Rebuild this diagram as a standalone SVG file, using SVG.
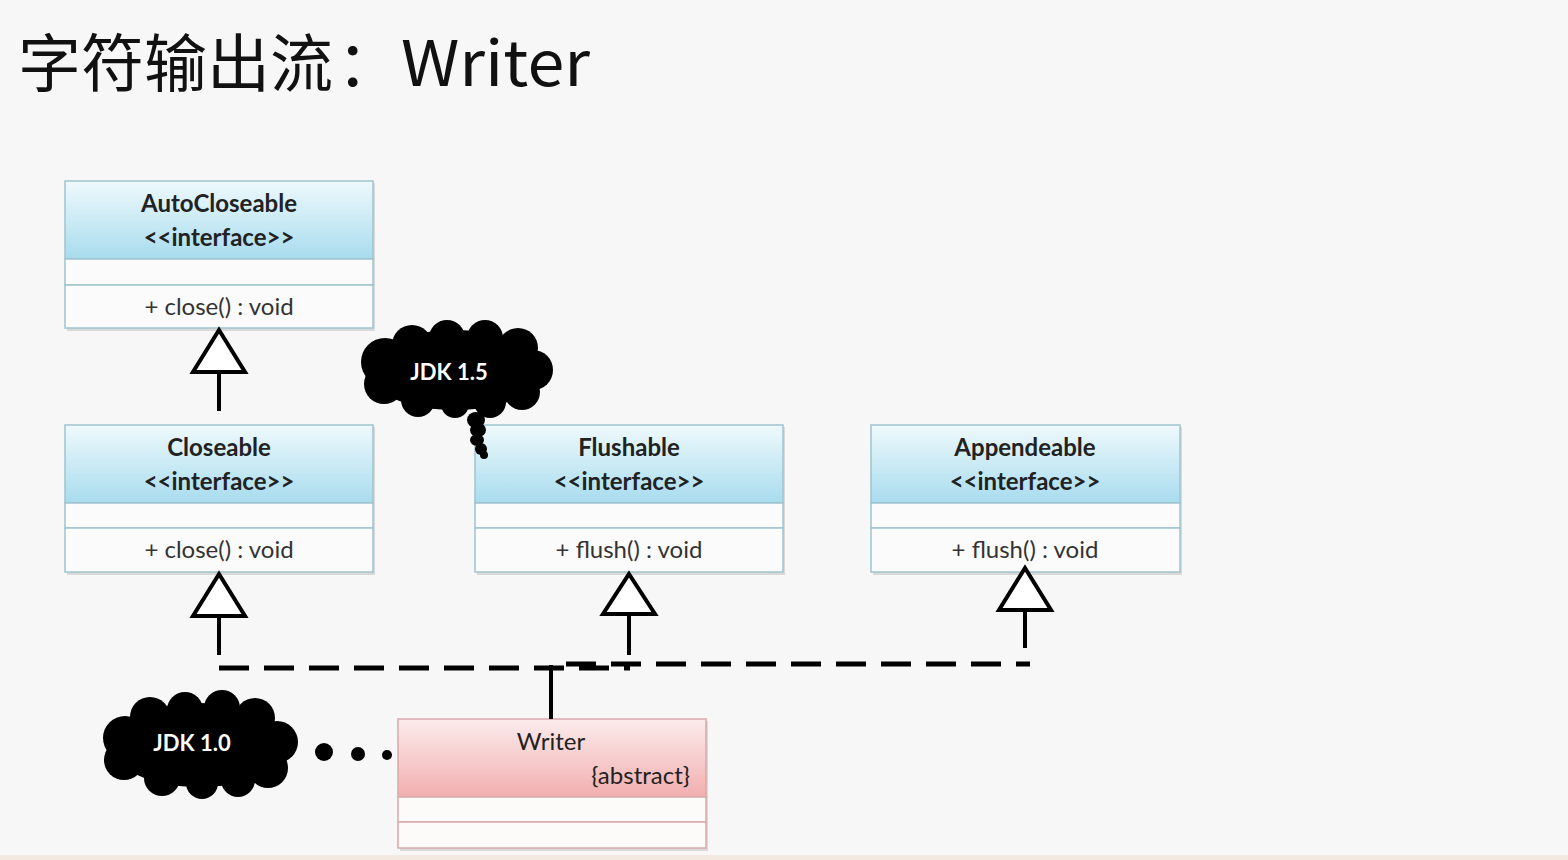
<svg xmlns="http://www.w3.org/2000/svg" width="1568" height="860" viewBox="0 0 1568 860">
<defs>
<linearGradient id="gBlue" x1="0" y1="0" x2="0" y2="1">
<stop offset="0" stop-color="#eef9fc"/>
<stop offset="1" stop-color="#a8dcee"/>
</linearGradient>
<linearGradient id="gPink" x1="0" y1="0" x2="0" y2="1">
<stop offset="0" stop-color="#fcecec"/>
<stop offset="1" stop-color="#f2aeaf"/>
</linearGradient>
</defs>
<style>
.bg{fill:#f7f7f7}
.shadow{fill:#000;opacity:0.12}
.box{stroke:#9fc4d0;stroke-width:1.5}
.boxw{fill:#fbfbfb;stroke:#9fc4d0;stroke-width:1.5}
.pbox{stroke:#d9a9a9;stroke-width:1.5}
.pboxw{fill:#fdfafa;stroke:#d9a9a9;stroke-width:1.5}
.name{font-family:Lato,"Open Sans","Liberation Sans",sans-serif;font-size:24px;font-weight:bold;fill:#222;text-anchor:middle}
.meth{font-family:Lato,"Open Sans","Liberation Sans",sans-serif;font-size:24px;fill:#333;text-anchor:middle}
.title{font-family:"Noto Sans CJK SC","Noto Sans",sans-serif;font-size:63px;fill:#111}
.cloudtxt{font-family:Lato,"Open Sans","Liberation Sans",sans-serif;font-size:22px;font-weight:bold;fill:#fff;text-anchor:middle}
.head{fill:#fff;stroke:#000;stroke-width:4;stroke-linejoin:miter}
.line{stroke:#000;stroke-width:4;fill:none}
.dash{stroke:#000;stroke-width:5;fill:none;stroke-dasharray:30 15}
</style>
<rect class="bg" x="0" y="0" width="1568" height="860"/>
<rect x="0" y="855" width="1568" height="5" fill="#f3e9e1"/>

<text id="title" class="title" y="86"><tspan x="18">字符输出流</tspan><tspan x="337">：</tspan><tspan x="401" textLength="189" lengthAdjust="spacingAndGlyphs">Writer</tspan></text>

<g id="AutoCloseable">
<rect class="shadow" x="67" y="183" width="308" height="148"/>
<rect class="box" fill="url(#gBlue)" x="65" y="181" width="308" height="78"/>
<rect class="boxw" x="65" y="259" width="308" height="26"/>
<rect class="boxw" x="65" y="285" width="308" height="43"/>
<text class="name" x="219" y="212">AutoCloseable</text>
<text class="name" x="219" y="246">&lt;&lt;interface&gt;&gt;</text>
<text class="meth" x="219" y="315">+ close() : void</text>
</g>

<g id="Closeable">
<rect class="shadow" x="67" y="427" width="308" height="148"/>
<rect class="box" fill="url(#gBlue)" x="65" y="425" width="308" height="78"/>
<rect class="boxw" x="65" y="503" width="308" height="25"/>
<rect class="boxw" x="65" y="528" width="308" height="44"/>
<text class="name" x="219" y="456">Closeable</text>
<text class="name" x="219" y="490">&lt;&lt;interface&gt;&gt;</text>
<text class="meth" x="219" y="558">+ close() : void</text>
</g>

<g id="Flushable">
<rect class="shadow" x="477" y="427" width="308" height="148"/>
<rect class="box" fill="url(#gBlue)" x="475" y="425" width="308" height="78"/>
<rect class="boxw" x="475" y="503" width="308" height="25"/>
<rect class="boxw" x="475" y="528" width="308" height="44"/>
<text class="name" x="629" y="456">Flushable</text>
<text class="name" x="629" y="490">&lt;&lt;interface&gt;&gt;</text>
<text class="meth" x="629" y="558">+ flush() : void</text>
</g>

<g id="Appendeable">
<rect class="shadow" x="873" y="427" width="309" height="148"/>
<rect class="box" fill="url(#gBlue)" x="871" y="425" width="309" height="78"/>
<rect class="boxw" x="871" y="503" width="309" height="25"/>
<rect class="boxw" x="871" y="528" width="309" height="44"/>
<text class="name" x="1025" y="456">Appendeable</text>
<text class="name" x="1025" y="490">&lt;&lt;interface&gt;&gt;</text>
<text class="meth" x="1025" y="558">+ flush() : void</text>
</g>

<g id="Writer">
<rect class="shadow" x="400" y="721" width="308" height="130"/>
<rect class="pbox" fill="url(#gPink)" x="398" y="719" width="308" height="78"/>
<rect class="pboxw" x="398" y="797" width="308" height="25"/>
<rect class="pboxw" x="398" y="822" width="308" height="26"/>
<text class="meth" x="551" y="750" style="fill:#222">Writer</text>
<text class="meth" x="690" y="784" style="text-anchor:end;fill:#222">{abstract}</text>
</g>

<g id="connectors">
<line class="line" x1="219" y1="372" x2="219" y2="411"/>
<polygon class="head" points="219,330 245,372 193,372"/>
<line class="line" x1="219" y1="616" x2="219" y2="655"/>
<polygon class="head" points="219,574 245,616 193,616"/>
<line class="line" x1="629" y1="614" x2="629" y2="655"/>
<polygon class="head" points="629,574 655,614 603,614"/>
<line class="line" x1="1025" y1="610" x2="1025" y2="648"/>
<polygon class="head" points="1025,568 1051,610 999,610"/>
<line class="dash" x1="219" y1="668" x2="630" y2="668"/>
<line class="dash" x1="566" y1="664" x2="1030" y2="664"/>
<line class="line" x1="551" y1="665" x2="551" y2="719"/>
</g>

<g id="cloud15">
<ellipse cx="455" cy="370" rx="88" ry="40"/>
<circle cx="385" cy="362" r="24"/>
<circle cx="384" cy="384" r="20"/>
<circle cx="412" cy="345" r="20"/>
<circle cx="447" cy="338" r="18"/>
<circle cx="485" cy="338" r="18"/>
<circle cx="518" cy="348" r="20"/>
<circle cx="533" cy="370" r="20"/>
<circle cx="522" cy="392" r="18"/>
<circle cx="490" cy="402" r="16"/>
<circle cx="455" cy="404" r="14"/>
<circle cx="418" cy="400" r="17"/>
<ellipse cx="476" cy="420" rx="9" ry="8"/>
<ellipse cx="478" cy="430" rx="8" ry="7"/>
<ellipse cx="477" cy="440" rx="7" ry="6"/>
<ellipse cx="481" cy="449" rx="6" ry="6"/>
<ellipse cx="484" cy="455" rx="4" ry="4"/>
<text class="cloudtxt" x="449" y="380">JDK 1.5</text>
</g>

<g id="cloud10">
<ellipse cx="199" cy="745" rx="88" ry="42"/>
<circle cx="125" cy="738" r="22"/>
<circle cx="124" cy="760" r="20"/>
<circle cx="150" cy="717" r="20"/>
<circle cx="185" cy="710" r="18"/>
<circle cx="222" cy="708" r="18"/>
<circle cx="255" cy="718" r="20"/>
<circle cx="277" cy="742" r="21"/>
<circle cx="268" cy="768" r="20"/>
<circle cx="238" cy="780" r="17"/>
<circle cx="202" cy="783" r="16"/>
<circle cx="162" cy="778" r="18"/>
<text class="cloudtxt" x="192" y="751">JDK 1.0</text>
</g>

<g id="dots">
<circle cx="324" cy="752" r="9"/>
<circle cx="358" cy="754" r="7"/>
<circle cx="387" cy="755" r="5"/>
</g>
</svg>
